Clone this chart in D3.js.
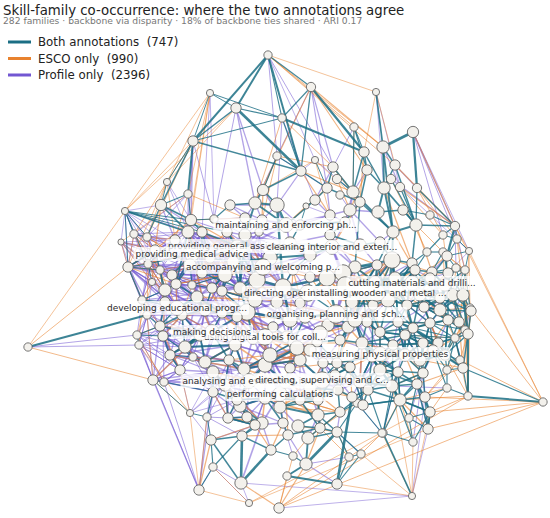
<!DOCTYPE html>
<html>
<head>
<meta charset="utf-8">
<script src="https://cdn.jsdelivr.net/npm/d3@7"></script>
<style>
  body { margin: 0; background: #fff; }
  svg { display: block; }
  text { font-family: "DejaVu Sans", sans-serif; }
</style>
</head>
<body>
<script>
var width = 550, height = 518;

// layout position of each drawn skill family, and its weighted degree
var nodeX = [268,311,210,376,236,282,193,354,413,364, 383,277,315,301,333,367,395,337,391,400,
  417,188,263,327,353,384,255,277,306,315, 340,360,167,161,125,191,214,455,416,393,
  443,457,469,134,147,121,188,202,227,245, 259,128,148,160,172,152,176,192,202,212,
  222,240,257,142,165,197,182,222,247,277, 283,147,160,237,137,139,163,253,273,287,
  28,427,443,412,392,377,355,343,375,395, 415,432,448,465,293,310,327,300,352,373,
  388,407,424,440,453,470,337,305,328,348, 367,380,398,413,430,448,465,293,317,340,
  362,393,405,438,455,300,337,372,460,290, 447,456,430,463,471,459,468,423,433,463,
  447,423,447,468,425,543,417,392,398,409, 428,413,383,412,190,207,211,242,213,241,
  199,249,279,287,271,293,306,308,288,298, 283,262,247,240,280,318,337,340,357,349,
  361,337,382,368,153,164,170,193,205,229, 185,213,237,244,265,297,310,323,335,350,
  338,352,318,300,228,213,363,290,330,360, 380,310,270,233,210,300,345,230,378,403,
  430,286,237,192,263,332,308,377,412,177, 336,265,212,380,249,322,280,240,225,190,
  175,155,165,205,255,345,362,396,420,445, 440,420,405,445,400,430,355,320,290,270,
  285,310,360,380,235,200,180,225,265,255, 320,350,330,262,245];
var nodeY = [55,87,93,92,108,118,141,127,132,152, 147,156,160,171,167,170,165,179,179,187,
  188,194,190,188,192,188,203,205,206,200, 195,202,182,205,211,220,219,226,225,232,
  235,239,251,234,237,242,232,232,232,235, 232,267,264,270,275,282,284,285,273,288,
  291,288,280,300,302,297,315,313,312,302, 287,315,326,317,335,345,336,338,327,337,
  347,252,252,263,260,265,267,273,282,278, 270,272,273,270,270,277,278,303,302,305,
  300,305,307,298,295,308,313,317,325,327, 322,332,322,328,323,320,330,343,342,340,
  343,345,335,343,338,360,363,357,360,368, 256,268,278,295,311,322,334,343,350,368,
  370,373,388,396,397,402,384,386,372,418, 429,442,433,496,413,417,440,436,467,483,
  490,503,508,476,450,456,464,438,435,426, 423,423,417,406,407,415,432,412,403,457,
  454,484,433,390,380,382,355,357,362,360, 347,392,400,369,365,348,350,363,375,367,
  390,397,400,400,418,372,405,243,235,245, 242,255,258,262,258,225,222,205,212,210,
  215,225,246,254,267,247,293,293,283,308, 314,337,332,354,381,380,394,250,275,265,
  240,250,290,310,300,285,290,290,295,285, 310,360,355,355,400,412,320,333,320,355,
  382,388,382,370,345,335,370,385,398,425, 428,210,215,220,218];
var nodeDeg = [20,25,15,15,31,20,31,20,37,31, 44,20,15,31,31,31,31,25,25,25,
  25,20,37,31,44,44,44,60,11,31, 20,31,15,37,15,37,20,25,44,44,
  20,20,15,20,20,11,44,31,31,44, 20,31,20,20,31,15,31,20,31,31,
  31,44,79,20,31,44,31,31,79,44, 79,20,31,31,20,20,31,44,31,44,
  20,20,20,31,79,31,44,79,44,44, 31,31,31,20,31,31,79,31,44,31,
  60,31,31,31,44,20,31,44,44,44, 31,31,31,31,31,31,20,31,31,31,
  44,31,31,31,20,44,31,31,20,31, 31,20,31,44,31,31,31,31,31,31,
  20,31,20,20,31,20,31,44,31,20, 31,20,20,15,15,20,31,31,20,44,
  31,15,31,20,31,20,44,44,31,44, 31,44,31,44,44,44,31,31,20,20,
  20,31,20,31,31,20,31,20,44,31, 44,31,31,44,60,60,44,31,31,31,
  31,31,31,31,31,44,31,44,31,44, 31,44,60,44,31,31,31,31,44,31,
  20,60,44,60,79,60,79,79,60,60, 100,79,60,60,60,79,60,60,60,44,
  31,31,44,44,60,79,60,60,44,44, 44,44,44,31,44,31,60,60,60,60,
  44,44,44,44,44,44,31,44,44,31, 31,44,31,31,31];

// backbone ties, by which annotation keeps them ("a-b" pairs, or "a:b,c,d" neighbour lists)
var bothStrong = "0-13 0-6 1-9 3-10 8-20 4-13 6-21 5-9 80-71 145-143 153-152 34-46 157-159 166-176 163-181 181-201 8-10 82-130 37-130 133-136 136-143 0-4 159-164 163-166";
var bothEdges = "0-5 0-1 1-5 1-13 2-4 2-5 2-6 4-5 4-6 5-6 5-13 6-33 6-32 6-13 7-9 7-15 7-24 9-15 9-25 9-24 10-16 10-25 10-39 11-22 11-13 12-23 13-22 13-23 14-24 14-23 15-25 15-31 16-25 16-38 17-24 18-25 18-38 19-38 20-38 20-37 21-35 21-33 22-27 22-26 23-29 23-31 24-31 24-39 25-39 25-38 26-27 26-49 27-70 28-29 31-39 31-86 32-33 33-35 33-46 33-44 34-44 34-47 34-43 34-52 34-35 34-48 34-51 35-46 35-47 35-36 36-48 37-38 37-41 37-40 38-83 38-39 39-84 39-85 40-41 40-81 41-42 41-130 42-93 42-130 43-44 46-56 46-58 47-58 48-62 49-62 49-61 51-52 51-53 52-55 53-64 56-65 57-59 58-61 59-60 60-68 61-62 61-68 62-70 62-212 63-64 64-66 65-67 66-72 66-190 67-68 67-73 68-77 70-96 70-94 71-72 72-76 74-75 74-76 76-186 77-79 78-79 79-117 81-82 81-83 82-92 83-90 83-84 84-89 84-86 85-88 85-86 86-87 87-96 87-98 88-89 88-100 89-90 89-100 90-91 91-92 91-132 92-93 92-104 93-105 103-104 103-133 104-133 105-134 106-107 106-108 107-117 108-109 108-118 109-110 109-119 110-111 111-112 111-121 112-113 113-114 113-122 114-115 115-135 115-124 116-136 116-124 117-125 118-119 118-126 119-120 120-121 120-127 121-122 121-147 122-123 123-124 123-138 124-128 125-129 125-194 126-127 126-199 127-148 128-139 130-131 131-133 132-133 133-134 134-136 136-139 137-138 138-141 139-140 139-143 140-142 141-146 142-143 142-144 144-146 144-150 145-139 146-147 146-149 147-152 147-148 149-150 149-151 151-152 152-182 154-155 154-184 155-156 155-191 156-157 156-158 156-159 157-164 157-171 158-157 158-160 164-165 164-168 165-166 166-167 167-176 167-169 168-170 169-175 170-174 171-173 172-173 173-192 174-175 175-177 176-178 176-182 177-178 179-180 179-181 180-181 183-147 184-185 185-191 186-187 186-190 187-188 188-189 188-205 189-193 190-187 191-192 192-204 193-194 194-195 195-196 196-197 196-118 197-199 198-199 198-200 199-120 200-201 200-202 201-206 202-203 203-174 204-172 205-191 206-183 207-211 207-215 208-209 208-216 209-210 210-84 211-212 211-94 212-213 213-214 213-61 214-47 215-216 215-28 216-31 217-26 217-36 218-219 218-25 219-220 219-38 220-37 83-101 84-100 89-112 90-102 91-103 92-115 93-104 130-132 131-91 81-90 82-91 85-98 88-109 100-111 101-113 102-115 103-135 104-135 112-122 113-123 114-124 115-116 110-120 111-122 120-147 121-141 122-138 123-137 137-141 138-146 99-127 109-126 98-99 98-109 99-100 99-110 100-101 101-102 101-112 102-103 102-114 " +
  "221:215,27,29,216,26 222:47,48,214,213 223:54,56,52 224:212,62,61,207 225:208,209,211,207 226:95,96,97,106,70 227:88,89,99,100,85 228:90,91,132,83,89 229:64,63,65,72 230:106,108,96,109,107 231:77,79,78,117 232:67,73,190,189 233:120,121,111,127 234:193,189,192,194 235:198,199,197,126,125 236:203,202,174,129 " +
  "247:84,88,89,90,100,101,112,227,228,248,246 248:90,91,101,102,103,113,114,228,249,250 249:91,92,93,103,104,131,133,228,250,130 250:102,103,104,114,115,133,134,135,248,249 246:85,88,98,99,100,110,111,227,245,256 251:113,114,122,123,137,138,141,252,253,233 252:112,113,121,122,137,148,233,251 253:115,123,124,128,135,136,138,139,140,251 254:141,144,146,147,148,149,152,183,206,255 255:144,146,149,150,151,254 263:120,121,127,141,146,147,148,233,262,252 262:127,147,183,206 245:87,98,109 256:109,119,120,127 258:68,70,107 244:62,68 237:49,213 238:59,60 243:65,67 265:190,188 268:203,174,170 270:169,175,177,176,202,203,167,168 269:157,171,172,204 255:150 260:129 " +
  "83:89,100,247 84:88,99 85:87,100 86:88,99,245 87:99,245 88:90,101,247 89:101,113,248 90:103,248 91:104,249 92:133,249 93:133,131 100:102,113,246 101:103,114,250 102:104,115,250 103:115,134 104:134,136 110:112,121,256 111:113,122,252 112:114,123,252 113:115,124,253 114:116,138,251 115:136,253 120:122,148,263 121:123,137,251 122:124,138,252 123:136,139 124:139,140 137:139,146 138:140,142 141:144,147 146:148,150 147:149,151,254 148:152,254 127:147,183,262 126:198,200,262 199:200,206,262 198:202,261 200:203,177,261 201:178,183 202:174,270 206:178,254 183:148,152,263 178:182 175:176,270 177:183 176:180,179 " +
  "51:63,241 52:240,241 53:241,242 56:239,242 57:239,238 58:238,239 59:238,243 60:237,244 61:237,244 63:71,242 64:72,242 65:243,229 66:243,265 72:265,74 73:264,243 76:265,187 186:266,265 190:265,264 188:264,267 189:264,267 192:267,268 173:268,269 171:269,172 204:267,269 193:259,264 194:259,260 117:258,259";
var escoEdges = "0-7 0-3 0-16 0-10 1-10 1-15 2-32 2-21 2-34 4-34 4-32 5-14 6-34 6-43 3-9 3-16 7-24 11-14 12-31 32-51 34-80 80-51 80-184 145-42 145-37 145-128 145-144 145-150 145-162 145-105 153-151 153-147 161-149 162-143 42-105 42-116 41-136 93-143 105-143 116-143 124-143 20-41 19-37 8-37 16-37 2-35 2-46 5-26 1-26 11-22 21-45 45-51 32-44 6-44 13-24 14-31 12-22 9-31 154-160 154-184 155-160 156-160 160-161 158-161 159-162 163-162 165-162 166-162 180-153 182-153 181-153 152-162 150-161 51-56 53-59 55-63 43-53 44-58 46-60 47-62 48-70 52-64 57-66 58-67 59-68 60-69 61-70 63-72 64-73 65-77 66-76 67-78 72-74 73-79 87-88 86-95 85-96 96-98 94-107 95-106 98-100 99-111 101-103 102-104 103-105 108-119 109-120 112-114 113-115 117-129 118-125 119-126 120-127 121-123 122-124 125-194 126-198 127-199 186-188 187-189 188-193 189-194 190-205 191-204 192-172 193-195 194-196 195-118 198-200 199-201 200-206 201-183 202-175 203-177 204-171 205-192 133-135 134-136 136-128 104-116 105-124 131-92 130-93 " +
  "221-28 221-23 222-35 222-36 223-51 223-46 224-49 224-95 225-85 225-31 226-87 226-98 227-84 227-90 228-130 228-131 229-53 229-56 230-98 230-69 231-195 231-125 232-65 232-72 233-126 233-147 234-173 234-205 235-202 235-175 236-175 236-177 " +
  "92-133 93-134 131-104 82-93 40-92 41-93 37-42 20-40 19-40 18-81 25-83 39-90 38-91 38-82 84-91 86-101 87-100 96-110 107-109 117-120 129-126 139-146 140-144 141-147 138-123 116-139 128-144 135-139 105-116 157-168 164-170 165-167 167-177 169-176 171-204 172-192 174-177 178-183 179-176 180-182 43-51 44-53 45-55 51-63 52-71 55-74 63-75 71-184 74-185 75-154 " +
  "246:84,87,99,109,110 247:83,85,91,102,113 248:92,104,115,123 249:82,105,116,132 250:105,116,124,136 251:115,116,124,128,139 252:111,120,127,146,141 253:114,122,134,143 254:142,143,150,151,182 255:142,143,145,153 263:111,122,137 262:120,126,198,147 261:197,201,177,174 260:117,193,202,168 259:68,73,189,125 258:94,106,67 257:98,109,125,129 256:100,111,126 245:84,94,99 244:59,65,212 243:46,57,72 242:44,52,76 241:33,35 240:32,21 239:48,213 238:56,224 237:47,214 264:66,188,194 265:184,186 266:154,72 267:188,204,171 268:171,175 269:156,164 270:166,178,179 273:22,11 274:21,35 271:17,15 272:13,12 " +
  "43:52,241 45:52,241 51:53,241 44:240,239 52:53,242 55:241,242 53:239,242 54:239,223 56:238,242";
var profileEdges = "0-12 0-14 0-11 3-19 3-25 12-24 8-42 8-37 8-40 8-41 2-47 4-26 4-22 5-27 5-29 11-23 11-26 12-13 13-27 14-29 1-14 1-23 1-11 6-46 6-35 32-46 34-45 45-53 80-75 80-74 153-144 153-162 153-150 153-159 160-184 160-185 160-191 160-155 161-158 161-159 154-191 75-160 37-93 37-131 19-42 42-92 18-37 10-19 16-20 15-24 7-14 2-36 4-36 32-35 21-43 21-44 6-36 " +
  "43:51,52,53,46 44:52,53,47,56 45:51,55,52 46:53,54,57,58,214 47:54,56,59,213 48:57,59,60,212 49:60,61,212,213 50:61,62,213 51:55,63,64 52:54,56,63 53:55,56,64 54:56,57,64,65 55:63,64,71 56:64,65,66 57:65,58,60 58:59,62 59:65,67 60:61,67,73 61:73,69 62:69,94,211 63:71,72,66 64:65,71,72 65:66,67,190 66:67,71,186 67:73,190,188 68:73,78,69 69:70,78,107 70:94,95,107 71:74,75 72:74,75,184 73:78,189,77 74:184,185 75:184,185,186 76:185,186,187 77:78,193,194 78:117,79 79:195,107 184:191 185:205,191 186:205,188 187:189 188:193 189:192,194 190:188,76 191:204,155 192:172,193 193:125 194:129,203 195:129,117 94:96 211:95 207:211,208 208:86 209:85 210:39 212:70 213:62 214:61 215:27 216:24 217:27 36:49 35:48 33:47 21:46 " +
  "43-62 51-61 45-58 63-60 71-67 74-73 51-70 52-62 55-68 63-69 44-212 43-213 53-224 55-222 71-68 72-77 64-78 184-194 185-193 186-189 154-192 155-204 191-172 188-171 187-192 74-190 75-66 46-211 47-224 48-207 " +
  "85:87 86:96,98 87:95,106 88:98 89:99 90:100 91:101 92:102 93:103 130:91 131:92 132:103 83:88 84:85 96:107 98:108 99:109 100:110 101:111 102:112 103:113 104:114 133:115 134:116 105:115 106:118 107:118 108:117 109:118 110:119 111:120 112:121 113:121 114:123 115:123 116:124 117:129 118:196 119:197 120:199 121:127 122:148 123:141 124:139 " +
  "221:22,49,50,207 222:46,58,57,223,49 223:44,53,57,58,65 224:211,70,94,213,50 225:86,87,216,94 226:69,107,94 227:87,98,110 228:92,101,102 229:66,55,51,71 230:97,118,119 231:68,73,193,194 232:66,76,188,68 233:119,110,148,122 234:188,191,204,172 235:200,203,129 236:170,171,173,194 " +
  "154:156 155:157 156:171 158:159 160:158 159:171 164:171 165:170 166:168 167:175 169:174 170:173 172:204 173:204 176:177 178:201 179:166 180:176 181:166 182:178 183:148 152:148 151:141 150:146 149:141 144:141 147:142 34:53,55,51 45:63 51:71 63:74 71:75 " +
  "237:49,50,213,61,62,212,224,222,48,60,238,221,207 238:57,58,59,60,61,213,214,222,223,237,239,243,244,65,67 239:46,47,53,54,56,57,58,214,222,223,240,242,65 240:43,44,46,52,53,223,241,239,214,35,33 241:43,44,45,51,52,53,55,223,240,63 242:51,53,55,56,63,64,65,71,72,229,239,243,66 243:59,60,65,66,67,73,229,232,238,242,265,190 244:61,62,68,69,70,73,224,226,231,238,258,60,77 258:68,69,70,77,78,79,97,107,117,226,230,231,244,257 259:77,78,79,117,125,129,193,194,195,231,234,236,260,264 260:125,194,195,203,174,234,236,259,261,268 264:73,77,189,193,190,232,234,265,259,68 265:66,72,76,186,187,188,190,229,232,242,243,266,264 266:184,185,186,187,191,205,265,75,76 267:189,191,192,193,204,205,234,268,173 268:173,174,192,194,203,236,260,267,269,172 269:171,172,173,204,170,268 257:106,107,108,118,119,196,197,230,235,258,256,117 261:198,200,202,203,235,236,260,262,175 262:126,127,199,200,201,206,235,263,183,233 256:98,99,106,108,110,119,120,230,233,246,257 245:86,87,88,95,96,98,226,227,246,230,225 272:208,215,216,221,28,29,23,271 271:216,218,24,31,30,210,209 273:26,27,49,50,217,221,215,274 274:26,36,48,49,217,222,273 " +
  "34:33,43,44,240,241,239,222 45:241,240,223,242,229 51:241,240,239,242,223,229,72 63:242,241,229,265,76 71:242,229,265,266,184 74:265,266,186,242 75:266,190,265 184:266,265,186,267 185:266,267,187 154:266,267,205 155:267,192,205 " +
  "46:59,60,61,62,237,238,243,65,213 47:60,61,237,238,239,242,65 48:61,62,238,244,224,213,58 49:62,224,238,244,211,70 50:224,211,207,237 52:57,58,239,242,229,65 53:57,58,65,239,243 54:58,59,238,243,242 56:57,58,59,60,238,243,229 57:59,61,243,67 58:60,213 59:61,73,244 60:62,244,68 61:68,244 62:68,226,244 64:66,67,243,76,186 65:68,73,232,264 66:73,76,190,264 67:77,264,232 68:79,231,259,258 69:79,258,230,226,97 70:96,97,226 72:186,190,265,76 73:193,231,264 76:188,190,266 77:79,117,258,259 78:195,196,259 79:196,258,230 186:188,190,264 187:191,205,267 188:191,267,264 189:191,204,267,268 190:193,205 192:194,234,268,173 193:194,195,259 194:195,196,125,236 195:196,197,257 196:198,199,257,125 197:198,200,261 198:201,262,202 199:206,262 125:203,261,260,235 129:203,260,261,202 " +
  "83:89,247 84:88,246,247 85:246,245 86:245,230 87:246,256 88:246,256 89:248,101 90:248,249 91:248,250 92:250,249 100:112,247,256 101:248,114 102:250 110:256,121 111:256,233 112:252,251 113:251 114:253 121:252,263 122:251,263 127:262,263 120:256,262";

// labelled families (drawn in this order)
var labelNodes = [221,222,223,224,225,226,227,228,229,230,231,232,233,234,235,236];
var labelTexts = ["maintaining and enforcing ph...", "providing general assistance...",
  "providing medical advice", "accompanying and welcoming p...", "cleaning interior and exteri...",
  "directing operations of pro...", "installing wooden and metal ...", "cutting materials and drilli...",
  "developing educational progr...", "organising, planning and sch...", "using digital tools for coll...",
  "making decisions", "measuring physical properties", "analysing and evaluating in...",
  "directing, supervising and c...", "performing calculations"];

var legendNames = ["Both annotations", "ESCO only", "Profile only"];
var legendCounts = [747, 990, 2396];

var colBoth = "#1b6e84", colEsco = "#e8822e", colProfile = "#7257d2";

var x = d3.scaleLinear().domain([0, 550]).range([0, width]);
var y = d3.scaleLinear().domain([0, 518]).range([0, height]);
var r = d3.scaleSqrt().domain([0, 100]).range([0, 9.3]);
// ties between well-connected families are drawn heavier
var tieScale = d3.scaleLinear().domain([15, 60]).range([0.85, 2.1]).clamp(true);

// turn "a-b" pairs and "a:b,c" lists into [source, target] pairs
function parse(s) {
  var out = [];
  s.trim().split(/\s+/).forEach(function(p) {
    if (p.indexOf(":") > 0) {
      var a = +p.split(":")[0];
      p.split(":")[1].split(",").forEach(function(b) { out.push([a, +b]); });
    } else {
      out.push(p.split("-").map(Number));
    }
  });
  return out;
}

var svg = d3.select("body").append("svg")
    .attr("width", width)
    .attr("height", height);

function drawEdges(list, color, w, op) {
  svg.append("g")
    .selectAll("line")
    .data(parse(list))
    .join("line")
      .attr("x1", function(d) { return x(nodeX[d[0]]); })
      .attr("y1", function(d) { return y(nodeY[d[0]]); })
      .attr("x2", function(d) { return x(nodeX[d[1]]); })
      .attr("y2", function(d) { return y(nodeY[d[1]]); })
      .attr("stroke", color)
      .attr("stroke-width", function(d) {
        return w * tieScale(Math.min(nodeDeg[d[0]], nodeDeg[d[1]]));
      })
      .attr("stroke-opacity", op);
}

drawEdges(profileEdges, colProfile, 1, 0.55);
drawEdges(escoEdges, colEsco, 0.95, 0.6);
drawEdges(bothEdges, colBoth, 1.15, 0.82);
drawEdges(bothStrong, colBoth, 2, 0.85);

// nodes
svg.append("g")
  .selectAll("circle")
  .data(nodeX)
  .join("circle")
    .attr("cx", function(d) { return x(d); })
    .attr("cy", function(d, i) { return y(nodeY[i]); })
    .attr("r", function(d, i) { return r(nodeDeg[i]); })
    .attr("fill", "#f3f1ec")
    .attr("stroke", "#666")
    .attr("stroke-width", 0.9);

// labels with translucent boxes
labelNodes.forEach(function(n, i) {
  var g = svg.append("g")
      .attr("transform", "translate(" + x(nodeX[n]) + "," + y(nodeY[n]) + ")");
  var rect = g.append("rect");
  var t = g.append("text")
      .attr("text-anchor", "middle")
      .attr("dy", "0.35em")
      .attr("font-size", 9)
      .attr("fill", "#2b2b2b")
      .text(labelTexts[i]);
  var w = t.node().getComputedTextLength();
  rect.attr("x", -w / 2 - 2).attr("y", -7)
      .attr("width", w + 4).attr("height", 14)
      .attr("rx", 2)
      .attr("fill", "#fff")
      .attr("fill-opacity", 0.78);
});

// title
svg.append("text")
  .attr("x", 3).attr("y", 14.5)
  .attr("font-size", 13.3)
  .attr("fill", "#222")
  .text("Skill-family co-occurrence: where the two annotations agree");

svg.append("text")
  .attr("x", 3).attr("y", 23.5)
  .attr("font-size", 9.2)
  .attr("fill", "#777")
  .text("282 families \u00b7 backbone via disparity \u00b7 18% of backbone ties shared \u00b7 ARI 0.17");

// legend
var legend = svg.append("g");
[colBoth, colEsco, colProfile].forEach(function(c, i) {
  var ly = 42 + i * 16.5;
  legend.append("line")
    .attr("x1", 8).attr("x2", 31)
    .attr("y1", ly).attr("y2", ly)
    .attr("stroke", c).attr("stroke-width", 3);
  legend.append("text")
    .attr("x", 38).attr("y", ly + 4)
    .attr("font-size", 11.8)
    .attr("fill", "#222")
    .style("white-space", "pre")
    .text(legendNames[i] + "  (" + legendCounts[i] + ")");
});
</script>
</body>
</html>
